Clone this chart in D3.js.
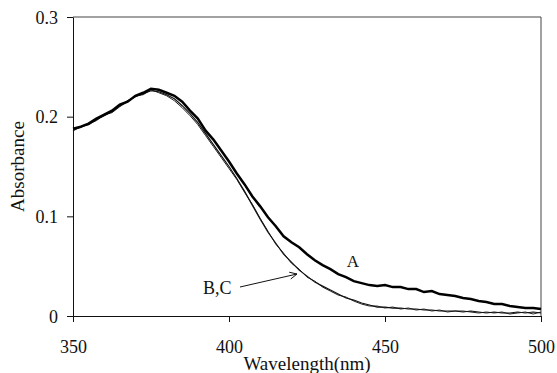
<!DOCTYPE html>
<html>
<head>
<meta charset="utf-8">
<script src="https://d3js.org/d3.v7.min.js"></script>
<style>
  body { margin: 0; background: #fff; }
</style>
</head>
<body>
<div id="viz"></div>
<script>
// wavelength grid (nm), 2.5 nm steps
const wavelength = d3.range(0, 61).map(i => 350 + i * 2.5);

// curve A (thick)
const seriesA = [0.188, 0.190, 0.193, 0.198, 0.202, 0.206, 0.212, 0.215, 0.221, 0.224,
  0.228, 0.227, 0.224, 0.221, 0.215, 0.206, 0.198, 0.186, 0.177, 0.166,
  0.155, 0.143, 0.132, 0.120, 0.110, 0.099, 0.090, 0.080, 0.074, 0.069,
  0.062, 0.056, 0.051, 0.047, 0.042, 0.039, 0.035, 0.033, 0.031, 0.030,
  0.031, 0.029, 0.029, 0.027, 0.027, 0.024, 0.025, 0.022, 0.021, 0.020,
  0.018, 0.017, 0.015, 0.014, 0.012, 0.012, 0.010, 0.009, 0.008, 0.008, 0.007];

// curves B and C (thin, nearly on top of each other)
const seriesB = [0.186, 0.190, 0.192, 0.197, 0.201, 0.205, 0.211, 0.216, 0.220, 0.223,
  0.226, 0.225, 0.222, 0.218, 0.211, 0.203, 0.194, 0.183, 0.172, 0.161,
  0.150, 0.138, 0.125, 0.111, 0.097, 0.084, 0.073, 0.062, 0.054, 0.046,
  0.040, 0.034, 0.030, 0.026, 0.022, 0.018, 0.016, 0.013, 0.011, 0.009,
  0.009, 0.008, 0.008, 0.007, 0.007, 0.006, 0.006, 0.005, 0.005, 0.005,
  0.004, 0.005, 0.004, 0.003, 0.004, 0.003, 0.003, 0.004, 0.003, 0.004, 0.003];

const seriesC = [0.187, 0.189, 0.193, 0.196, 0.202, 0.204, 0.210, 0.215, 0.221, 0.222,
  0.227, 0.224, 0.221, 0.216, 0.209, 0.201, 0.192, 0.181, 0.170, 0.159,
  0.148, 0.137, 0.124, 0.112, 0.098, 0.085, 0.072, 0.063, 0.053, 0.047,
  0.039, 0.035, 0.029, 0.025, 0.021, 0.019, 0.015, 0.012, 0.010, 0.010,
  0.008, 0.009, 0.007, 0.008, 0.006, 0.007, 0.005, 0.006, 0.004, 0.005,
  0.005, 0.004, 0.003, 0.004, 0.003, 0.004, 0.002, 0.003, 0.004, 0.002, 0.004];

const xTicks = [350, 400, 450, 500];
const yTicks = [0, 0.1, 0.2, 0.3];
const yTickLabels = ["0", "0.1", "0.2", "0.3"];

const W = 557, H = 373;
const margin = {top: 17, right: 16, bottom: 57, left: 73};
const serif = "'Liberation Serif', 'Times New Roman', 'DejaVu Serif', serif";

const svg = d3.select("#viz").append("svg")
  .attr("width", W)
  .attr("height", H)
  .style("font-family", serif);

const x = d3.scaleLinear().domain([350, 500]).range([margin.left, W - margin.right]);
const y = d3.scaleLinear().domain([0, 0.3]).range([H - margin.bottom, margin.top]);

// frame top + right
svg.append("path")
  .attr("d", `M${x(350)},${y(0.3)}H${x(500)}V${y(0)}`)
  .attr("fill", "none")
  .attr("stroke", "#444")
  .attr("stroke-width", 1);

// y axis
const yAxis = svg.append("g")
  .attr("transform", `translate(${x(350)},0)`)
  .call(d3.axisLeft(y).tickValues(yTicks).tickSize(6).tickSizeOuter(0)
    .tickFormat((d, i) => yTickLabels[i]).tickPadding(9));
yAxis.attr("font-family", null);
yAxis.select(".domain").attr("stroke", "#111");
yAxis.selectAll("line").attr("stroke", "#111");
yAxis.selectAll("text")
  .style("font-family", serif).style("font-size", "18px")
  .attr("fill", "#111").attr("dy", "0.34em");

// x axis
const xAxis = svg.append("g")
  .attr("transform", `translate(0,${y(0)})`)
  .call(d3.axisBottom(x).tickValues(xTicks).tickSize(6).tickSizeOuter(0)
    .tickFormat(d3.format("d")).tickPadding(18));
xAxis.attr("font-family", null);
xAxis.select(".domain").attr("stroke", "#111");
xAxis.selectAll("line").attr("stroke", "#111");
xAxis.selectAll("text")
  .style("font-family", serif).style("font-size", "18px").attr("fill", "#111");

// axis titles
svg.append("text")
  .attr("x", (x(350) + x(500)) / 2)
  .attr("y", 370)
  .attr("text-anchor", "middle")
  .attr("fill", "#111")
  .style("font-family", serif)
  .style("font-size", "19px")
  .text("Wavelength(nm)");

svg.append("text")
  .attr("transform", `translate(24,${(y(0) + y(0.3)) / 2}) rotate(-90)`)
  .attr("text-anchor", "middle")
  .attr("fill", "#111")
  .style("font-family", serif)
  .style("font-size", "19px")
  .text("Absorbance");

// curves
const line = d3.line()
  .x((d, i) => x(wavelength[i]))
  .y(d => y(d));

svg.append("path").datum(seriesC)
  .attr("d", line).attr("fill", "none")
  .attr("stroke", "#222").attr("stroke-width", 1);
svg.append("path").datum(seriesB)
  .attr("d", line).attr("fill", "none")
  .attr("stroke", "#111").attr("stroke-width", 1.2);
svg.append("path").datum(seriesA)
  .attr("d", line).attr("fill", "none")
  .attr("stroke", "#000").attr("stroke-width", 2.5);

// labels
svg.append("text")
  .attr("x", 353).attr("y", 267)
  .attr("text-anchor", "middle")
  .attr("fill", "#111")
  .style("font-family", serif)
  .style("font-size", "17px")
  .text("A");

svg.append("text")
  .attr("x", 203).attr("y", 294)
  .attr("fill", "#111")
  .style("font-family", serif)
  .style("font-size", "18px")
  .text("B,C");

// arrow to B,C
const ax0 = 240, ay0 = 287, ax1 = 297, ay1 = 274;
svg.append("line")
  .attr("x1", ax0).attr("y1", ay0).attr("x2", ax1).attr("y2", ay1)
  .attr("stroke", "#111").attr("stroke-width", 1);
const ang = Math.atan2(ay1 - ay0, ax1 - ax0);
[0.45, -0.45].forEach(a => {
  svg.append("line")
    .attr("x1", ax1).attr("y1", ay1)
    .attr("x2", ax1 - 8 * Math.cos(ang + a))
    .attr("y2", ay1 - 8 * Math.sin(ang + a))
    .attr("stroke", "#111").attr("stroke-width", 1);
});
</script>
</body>
</html>
